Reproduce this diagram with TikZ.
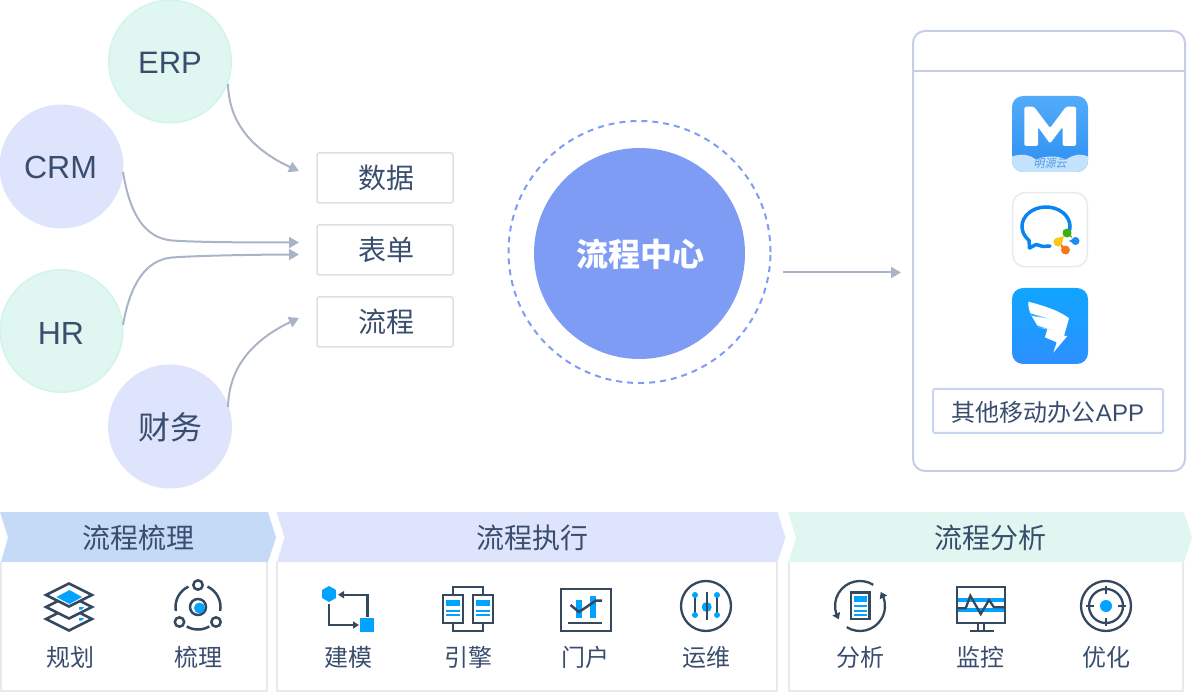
\documentclass[tikz,border=0pt]{standalone}
\usepackage{fontspec}
\setmainfont{Liberation Sans}
\newfontfamily\cjk{Noto Sans CJK SC}
\newfontfamily\cjkit[FakeSlant=0.2]{Noto Sans CJK SC}
\usetikzlibrary{arrows.meta,bending,calc,shapes.geometric}
\definecolor{ink}{HTML}{3A4D6E}
\definecolor{iconink}{HTML}{34495E}
\definecolor{hi}{HTML}{00A3FF}
\definecolor{mint}{HTML}{E0F7F1}
\definecolor{mintline}{HTML}{D2F4EA}
\definecolor{lav}{HTML}{DFE4FD}
\definecolor{sky}{HTML}{C5DAF6}
\definecolor{core}{HTML}{7F9CF5}
\definecolor{conn}{HTML}{ABB4C7}
\definecolor{graybox}{HTML}{DEDFE1}
\definecolor{edge}{HTML}{E9EAEC}
\definecolor{panel}{HTML}{C6CDE6}
\definecolor{mtop}{HTML}{52ACFA}
\definecolor{mbot}{HTML}{2E8FF2}
\definecolor{mwave}{HTML}{C4E2FB}
\definecolor{mtext}{HTML}{4E9BEA}
\definecolor{chatblue}{HTML}{0A84F0}
\definecolor{dgreen}{HTML}{3DAF12}
\definecolor{dblue}{HTML}{1E8CF0}
\definecolor{dorange}{HTML}{F5761E}
\definecolor{dyellow}{HTML}{FBC616}
\definecolor{dtop}{HTML}{10A5FF}
\definecolor{dbot}{HTML}{2C90FF}
\tikzset{
  srcmint/.style={circle,draw=mintline,fill=mint,line width=1.5pt,minimum size=122.5pt,inner sep=0pt},
  srclav/.style={circle,draw=lav,fill=lav,line width=1.5pt,minimum size=122.5pt,inner sep=0pt},
  srctxt/.style={text=ink,inner sep=0pt,font=\fontsize{32}{32}\selectfont},
  kindbox/.style={rectangle,rounded corners=2pt,draw=graybox,line width=1.5pt,minimum width=136pt,minimum height=50pt,inner sep=0pt},
  kindtxt/.style={text=ink,inner sep=0pt,font=\cjk\fontsize{28}{28}\selectfont},
  flow/.style={draw=conn,line width=2pt,-{Triangle[length=10pt,width=11pt,fill=conn]}},
  headtxt/.style={text=ink,inner sep=0pt,font=\cjk\fontsize{28}{28}\selectfont},
  itemtxt/.style={text=ink,inner sep=0pt,font=\cjk\fontsize{24}{24}\selectfont},
  ic/.style={draw=iconink,line width=2.5pt},
  icthin/.style={draw=iconink,line width=2.3pt},
  blu/.style={fill=hi},
  bluline/.style={draw=hi,line width=2pt},
  bodybox/.style={draw=edge,line width=2pt},
  arcarrow/.style={icthin,-{Triangle[length=6pt,width=8pt,fill=iconink,flex]}},
}
\begin{document}
\begin{tikzpicture}[x=1pt,y=-1pt]
\useasboundingbox (0,0) rectangle (1192,692);
% source circles
\node[srcmint] (erp) at (170,61.5) {};
\node[srclav] (crm) at (61.5,166.5) {};
\node[srcmint] (hr) at (61.5,331) {};
\node[srclav] (fin) at (170,426.5) {};
\node[srctxt,font=\fontsize{31}{31}\selectfont] (erptxt) at (170,62.5) {ERP};
\node[srctxt] (crmtxt) at (60.5,167) {CRM};
\node[srctxt] (hrtxt) at (61,333) {HR};
\node[srctxt,font=\cjk\fontsize{32}{32}\selectfont] (fintxt) at (170,427) {财务};
% kind boxes
\node[kindbox] (data) at (385,178) {};
\node[kindbox] (form) at (385,250) {};
\node[kindbox] (proc) at (385,322) {};
\node[kindtxt] (datatxt) at (386,178) {数据};
\node[kindtxt] (formtxt) at (386,250) {表单};
\node[kindtxt] (proctxt) at (386,322) {流程};
% connector ends
\coordinate (erpout) at (228,84);
\coordinate (crmout) at (123,172);
\coordinate (hrout) at (123,325);
\coordinate (finout) at (228,407);
\coordinate (datain) at (299,171);
\coordinate (formina) at (299,242.5);
\coordinate (forminb) at (299,254.5);
\coordinate (procin) at (299,318);
\draw[flow] (erpout) .. controls (229,125) and (255,153) .. (datain);
\draw[flow] (crmout) .. controls (130,215) and (145,238) .. (172,240.5) .. controls (200,242.5) and (260,242.5) .. (formina);
\draw[flow] (hrout) .. controls (130,285) and (145,260) .. (172,257.5) .. controls (200,255.5) and (260,254.5) .. (forminb);
\draw[flow] (finout) .. controls (229,365) and (255,337) .. (procin);
% centre
\node[circle,fill=core,minimum size=211pt,inner sep=0pt] (center) at (639.5,253.5) {};
\node[text=white,inner sep=0pt,font=\cjk\bfseries\fontsize{32}{32}\selectfont] (centertxt) at (640.5,254.5) {流程中心};
\node[circle,draw=core,dash pattern=on 6pt off 5pt,line width=2pt,minimum size=262pt,inner sep=0pt] (halo) at (639.5,252) {};
\coordinate (centerout) at (783,272.5);
\coordinate (panelin) at (901,272.5);
\draw[flow] (centerout) -- (panelin);
% phone panel
\node[rectangle,rounded corners=12pt,draw=panel,line width=2pt,minimum width=272pt,minimum height=440pt,inner sep=0pt] (phone) at (1049,251) {};
\draw[draw=panel,line width=2pt] (913,71) -- (1185,71);
\node[rectangle,draw={rgb,255:red,200;green,213;blue,242},rounded corners=1.5pt,line width=2pt,minimum width=230pt,minimum height=44pt,inner sep=0pt] (other) at (1048,411) {};
\node[text=ink,inner sep=0pt,font=\fontsize{24}{24}\selectfont] (othertxt) at (1048,412) {{\cjk 其他移动办公}APP};
% app 1
\shade[top color=mtop,bottom color=mbot,rounded corners=11pt] (1012,96) rectangle (1088,172);
\fill[white,rounded corners=1.5pt] (1024.3,106.7) -- (1034,106.7) -- (1050,128) -- (1066,106.7) -- (1076,106.7) -- (1076,146) -- (1062.5,146) -- (1062.5,127) -- (1050,143.5) -- (1038,127) -- (1038,146) -- (1024.3,146) -- cycle;
\begin{scope}
\clip[rounded corners=11pt] (1012,96) rectangle (1088,172);
\fill[mwave] (1012,156.5) .. controls (1022,153) and (1030,155) .. (1036,159.5) .. controls (1045,155.5) and (1058,155.5) .. (1066,159.5) .. controls (1072,155) and (1080,153) .. (1088,156.5) -- (1088,172) -- (1012,172) -- cycle;
\end{scope}
\node[text=mtext,inner sep=0pt,font=\cjkit\fontsize{11}{11}\selectfont] (mingyuan) at (1050,163) {明源云};
% app 2
\draw[draw=edge,fill=white,line width=1.5pt,rounded corners=12pt] (1012.7,192.7) rectangle (1087.3,266.7);
\draw[draw=chatblue,line width=3.5pt,line cap=round,line join=round] (1046,226.5) ++(-22:24pt and 19.5pt) arc[start angle=-22,end angle=225,x radius=24pt,y radius=19.5pt] -- (1029.5,248) -- (1036,244.5) -- (1043,246.5) -- (1050,246);
\fill[dgreen] (1067,233) circle[radius=4.5pt];
\fill[dgreen] (1063,230) -- (1070,231) -- (1072,238) -- cycle;
\fill[dblue] (1075.5,241) circle[radius=4pt];
\fill[dblue] (1076.5,237.2) -- (1076.5,244.8) -- (1069,241) -- cycle;
\fill[dorange] (1065.5,250) circle[radius=4.5pt];
\fill[dorange] (1061.5,248) -- (1069,252) -- (1060,242.5) -- cycle;
\fill[dyellow] (1058,242) circle[radius=4.5pt];
\fill[dyellow] (1055,239) -- (1061,245.5) -- (1064,236) -- cycle;
% app 3
\shade[top color=dtop,bottom color=dbot,rounded corners=11pt] (1012,288) rectangle (1088,364);
\fill[white] (1028.3,301.7) .. controls (1045,306) and (1060,311) .. (1069,318.3) -- (1064,336) -- (1067.3,336) -- (1053.3,352.7) -- (1056.7,342.3) -- (1045,337.3) -- (1047.3,329.3) -- (1038.3,327.3) -- (1031.7,316) .. controls (1029,311) and (1028,306) .. (1028.3,301.7) -- cycle;
\shade[left color=dtop,right color=white] (1030.7,313.5) -- (1053,319.5) -- (1032,316) -- cycle;
\shade[left color=dtop,right color=white] (1037,325.5) -- (1054,330.5) -- (1038.5,327.5) -- cycle;
% chevrons
\fill[sky] (0,512) -- (268,512) -- (276,537.5) -- (268,562) -- (1,562) -- (8,537.5) -- cycle;
\fill[lav] (276.5,512) -- (777.5,512) -- (785.5,537.5) -- (777.5,562) -- (277,562) -- (284.5,537.5) -- cycle;
\fill[mint] (788,512) -- (1184,512) -- (1192,537.5) -- (1184,562) -- (788.5,562) -- (796,537.5) -- cycle;
\node[headtxt] (h1) at (138,538) {流程梳理};
\node[headtxt] (h2) at (532,538) {流程执行};
\node[headtxt] (h3) at (990,538) {流程分析};
% bodies
\draw[bodybox] (1,562) -- (1,691) -- (267,691) -- (267,562);
\draw[bodybox] (277,562) -- (277,691) -- (777,691) -- (777,562);
\draw[bodybox] (789,562) -- (789,691) -- (1183,691) -- (1183,562);
% labels
\node[itemtxt] (t1) at (70,657.5) {规划};
\node[itemtxt] (t2) at (198,657.5) {梳理};
\node[itemtxt] (t3) at (348,657.5) {建模};
\node[itemtxt] (t4) at (468,657.5) {引擎};
\node[itemtxt] (t5) at (585,657.5) {门户};
\node[itemtxt] (t6) at (706,657.5) {运维};
\node[itemtxt] (t7) at (860,657.5) {分析};
\node[itemtxt] (t8) at (980,657.5) {监控};
\node[itemtxt] (t9) at (1106,657.5) {优化};
% icon: layers
\draw[ic,fill=white,line join=miter] (46,619) -- (69,607.5) -- (92,619) -- (69,630.5) -- cycle;
\draw[ic,fill=white,line join=miter] (46,607) -- (69,595.5) -- (92,607) -- (69,618.5) -- cycle;
\draw[ic,fill=white,line join=miter] (46,595) -- (69,583.5) -- (92,595) -- (69,606.5) -- cycle;
\fill[blu] (56.5,597) -- (69.5,590) -- (82,597) -- (69.5,604) -- cycle;
\fill[blu] (79,607) -- (84,607) -- (82,609.5) -- (79,609.5) -- cycle;
\fill[blu] (79,618) -- (84,618) -- (82,620.5) -- (79,620.5) -- cycle;
% icon: orbit
\draw[ic] (198,585) circle[radius=4.7pt];
\draw[ic] (179.5,622) circle[radius=4.7pt];
\draw[ic] (216,622) circle[radius=4.7pt];
\draw[ic] (198,607) ++(65:22.5pt) arc[start angle=65,end angle=-10,radius=22.5pt];
\draw[ic] (198,607) ++(115:22.5pt) arc[start angle=115,end angle=190,radius=22.5pt];
\draw[ic] (198,607) ++(-60:22.5pt) arc[start angle=-60,end angle=-120,radius=22.5pt];
\draw[ic] (198,607) circle[radius=8pt];
\fill[blu] (199.5,608) circle[radius=5.5pt];
% icon: modelling
\node[regular polygon,regular polygon sides=6,shape border rotate=30,fill=hi,minimum size=16pt,inner sep=0pt] (hexa) at (329,594) {};
\fill[blu] (360,618) rectangle (374,632);
\draw[icthin,-{Triangle[length=6pt,width=7pt,fill=iconink]}] (367.5,617) -- (367.5,594.7) -- (338,594.7);
\draw[icthin,-{Triangle[length=6pt,width=7pt,fill=iconink]}] (329,604) -- (329,625) -- (359,625);
% icon: engine
\draw[icthin] (442.7,595) rectangle (463.3,622.7);
\draw[icthin] (473,595) rectangle (493.3,622.7);
\draw[icthin] (452.7,593.8) -- (452.7,586.7) -- (483.3,586.7) -- (483.3,593.8);
\draw[icthin] (452.7,623.8) -- (452.7,631) -- (483.3,631) -- (483.3,623.8);
\fill[blu] (446,600) rectangle (460,606);
\draw[bluline] (446,611) -- (460,611) (446,615) -- (460,615);
\fill[blu] (476,600) rectangle (490,606);
\draw[bluline] (476,611) -- (490,611) (476,615) -- (490,615);
% icon: portal
\fill[blu] (576,600) rectangle (582,618);
\fill[blu] (590,596) rectangle (596,618);
\draw[ic] (561,589) rectangle (611,631);
\draw[ic] (570.5,605) -- (579,612) -- (596,600.5) -- (602,600.5);
\draw[ic] (568,623) -- (602,623);
% icon: ops
\draw[icthin] (706,606) circle[radius=25pt];
\draw[icthin] (695,595) -- (695,615);
\draw[icthin] (717,595) -- (717,615);
\fill[blu] (695,595) circle[radius=3pt];
\fill[blu] (695,615) circle[radius=3pt];
\fill[blu] (717,595) circle[radius=3pt];
\fill[blu] (717,615) circle[radius=3pt];
\fill[blu] (706.7,607) circle[radius=5pt];
\draw[icthin] (706.7,592) -- (706.7,620);
% icon: analysis
\draw[arcarrow] (860,606) ++(58:25pt) arc[start angle=58,end angle=212,radius=25pt];
\draw[arcarrow] (860,606) ++(238:25pt) arc[start angle=238,end angle=394,radius=25pt];
\draw[icthin] (851,592.5) rectangle (869.5,619);
\fill[blu] (854,596) rectangle (866.5,601.5);
\draw[bluline] (854,606) -- (866.5,606) (854,610.5) -- (866.5,610.5) (854,615) -- (866.5,615);
% icon: monitoring
\fill[blu] (957,598) rectangle (1005,602);
\fill[blu] (957,607.5) rectangle (1005,612);
\draw[icthin] (957,587) rectangle (1005,623);
\draw[icthin] (958,608.3) -- (965.7,608.3) -- (970.3,595.7) -- (980.7,614) -- (989,600) -- (994,607.3) -- (1004,607.3);
\draw[icthin] (978,624) -- (978,630.7) (984,624) -- (984,630.7) (970,630.7) -- (994,630.7);
% icon: optimise
\draw[icthin] (1106,606) circle[radius=25pt];
\draw[icthin] (1106,606) circle[radius=17pt];
\fill[blu] (1106,606) circle[radius=6pt];
\draw[icthin] (1106,586) -- (1106,594) (1106,618) -- (1106,626) (1086,606) -- (1094,606) (1118,606) -- (1126,606);
\end{tikzpicture}
\end{document}
